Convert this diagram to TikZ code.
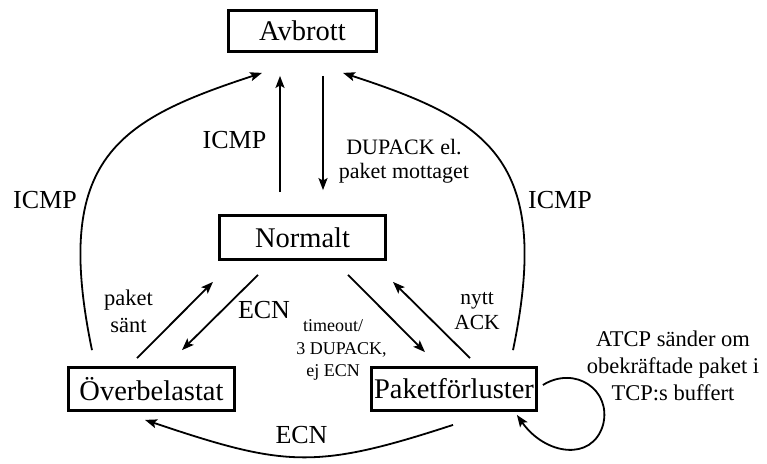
\documentclass[tikz,border=0pt]{standalone}
\usepackage{fontspec}
\setmainfont{Liberation Serif}
\usetikzlibrary{arrows.meta}
\begin{document}
\begin{tikzpicture}[x=1pt,y=-1pt,
  state/.style={draw, line width=2.8pt, inner sep=0pt, font=\fontsize{28.5}{32}\selectfont},
  arr/.style={line width=1.8pt, -{Stealth[length=12pt,width=9pt,inset=2.5pt]}},
  lbl/.style={font=\fontsize{26}{30}\selectfont, inner sep=0pt, anchor=base},
  sml/.style={font=\fontsize{22.5}{27}\selectfont, inner sep=0pt, align=center},
]
\useasboundingbox (0,0) rectangle (767,463);

% states
\node[state, minimum width=148pt, minimum height=41pt] (avb)  at (302.5,31)  {Avbrott};
\node[state, minimum width=166pt, minimum height=44pt] (norm) at (302.5,237.5) {Normalt};
\node[state, minimum width=166pt, minimum height=43pt] (over) at (151.5,389) {Överbelastat};
\node[state, minimum width=165pt, minimum height=43pt] (pak)  at (454,389)  {Paketförluster};

% vertical transitions between Normalt and Avbrott
\draw[arr] ([shift={(-22.5,-22)}]norm.north) -- ([shift={(-22.5,23)}]avb.south);
\draw[arr] ([shift={(20.5,23)}]avb.south) -- ([shift={(20.5,-24)}]norm.north);

% diagonal transitions
\draw[arr] ([shift={(-14.5,-8)}]over.north) -- ([shift={(-89.5,21)}]norm.south);
\draw[arr] ([shift={(-44.5,14)}]norm.south) -- ([shift={(30.5,-16)}]over.north);
\draw[arr] ([shift={(45.5,14)}]norm.south) -- ([shift={(-29,-14)}]pak.north);
\draw[arr] ([shift={(16,-8)}]pak.north) -- ([shift={(90.5,21)}]norm.south);

% outer arcs
\draw[arr] ([shift={(-59.5,-16)}]over.north) .. controls (52,158) and (118,120) .. ([shift={(-40.5,20)}]avb.south);
\draw[arr] ([shift={(59,-16)}]pak.north) .. controls (553,158) and (487,120) .. ([shift={(40.5,20)}]avb.south);
\draw[arr] ([shift={(-1,13)}]pak.south) .. controls (315,470) and (285,467) .. ([shift={(-6.5,8)}]over.south);

% self loop on Paketförluster
\draw[arr] ([shift={(5,-4)}]pak.east) .. controls (575,365) and (612,390) .. (603,425)
  .. controls (592,462) and (545,455) .. ([shift={(-21,3)}]pak.south east);

% labels
\node[lbl] (lIcmpMid)   at (234.5,148.3) {ICMP};
\node[lbl] (lIcmpLeft)  at (45,208.3)    {ICMP};
\node[lbl] (lIcmpRight) at (560,208.3)   {ICMP};
\node[lbl] (lEcnDiag)   at (264,318.3)   {ECN};
\node[lbl] (lEcnBottom) at (301.5,443)   {ECN};
\node[sml, font=\fontsize{22}{24}\selectfont] (lDup) at (404,161) {DUPACK el.\\paket mottaget};
\node[sml] (lSent) at (128.5,311.7) {paket\\sänt};
\node[sml, font=\fontsize{21.5}{25}\selectfont] (lAck) at (477,311.3) {nytt\\ACK};
\node[sml, font=\fontsize{18}{22.5}\selectfont] (lTimeout) at (333,350) {timeout/\\\hspace*{17pt}3 DUPACK,\\ej ECN};
\node[sml, font=\fontsize{22.5}{26.7}\selectfont] (lAtcp) at (673,366) {ATCP sänder om\\obekräftade paket i\\TCP:s buffert};
\end{tikzpicture}
\end{document}
